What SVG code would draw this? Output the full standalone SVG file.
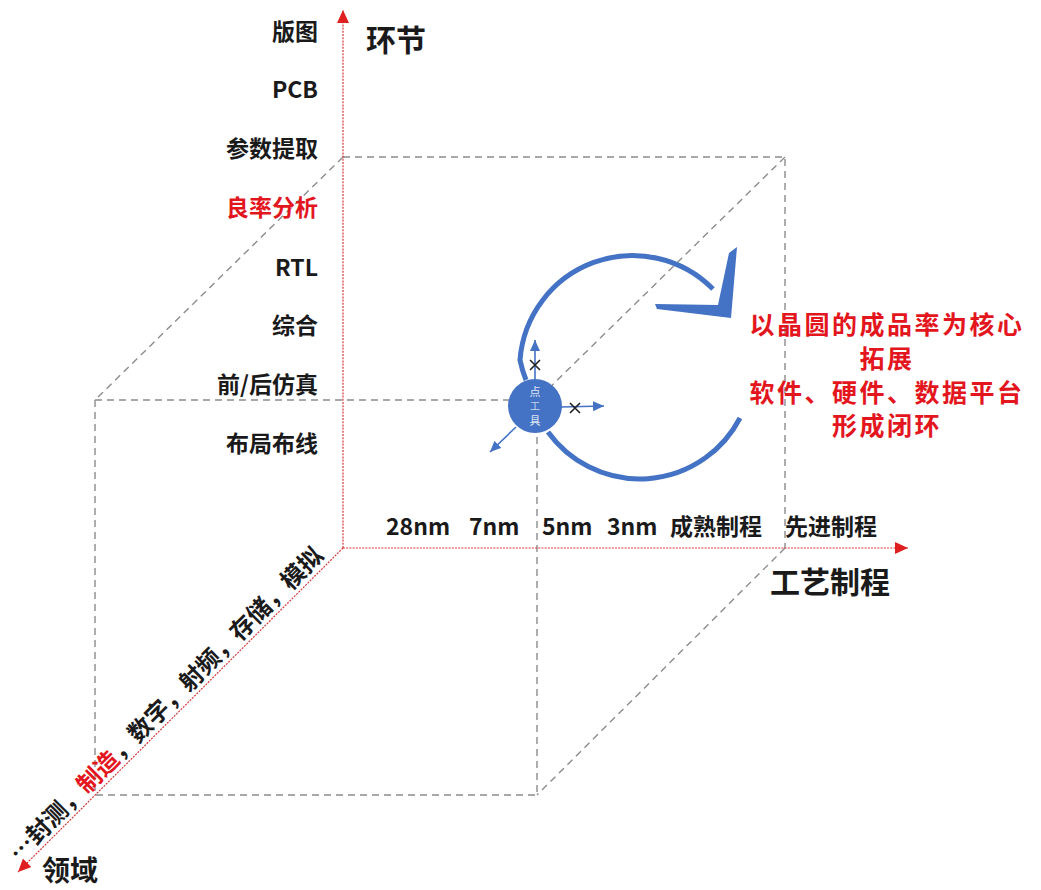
<svg xmlns="http://www.w3.org/2000/svg" width="1041" height="890" viewBox="0 0 1041 890">
  <style>
    .t { font-family: "Noto Sans CJK SC", "Liberation Sans", sans-serif; font-weight: 700; fill: #1a1a1a; }
    .lbl { font-size: 23px; text-anchor: end; dominant-baseline: central; }
    .tick { font-size: 23px; dominant-baseline: central; }
    .title { font-size: 30px; dominant-baseline: central; }
    .red { fill: #e3161e; }
    .note { font-size: 25px; letter-spacing: 2.5px; text-anchor: middle; dominant-baseline: central; fill: #e3161e; }
    .axis { stroke: #d63a3a; stroke-width: 1.2; stroke-dasharray: 2 1.2; fill: none; }
    .dash { stroke: #8c8c8c; stroke-width: 1.4; stroke-dasharray: 7 5; fill: none; }
    .blue { stroke: #4472c4; fill: none; }
    .x { stroke: #222; stroke-width: 1.6; }
    .in { font-family: "Noto Sans CJK SC", sans-serif; font-size: 11px; text-anchor: middle; fill: #dfe7f5; }
  </style>
  <defs>
    <marker id="redArrow" markerUnits="userSpaceOnUse" markerWidth="14" markerHeight="12" refX="13" refY="6" orient="auto">
      <path d="M0,0 L13,6 L0,12 z" fill="#e02020"/>
    </marker>
    <marker id="blueArrow" markerUnits="userSpaceOnUse" markerWidth="12" markerHeight="10" refX="11" refY="5" orient="auto">
      <path d="M0,0 L11,5 L0,10 z" fill="#4472c4"/>
    </marker>
  </defs>

  <rect width="1041" height="890" fill="#ffffff"/>

  <!-- cube dashed edges -->
  <g id="cube">
    <path class="dash" d="M343,157 H785 V548"/>
    <path class="dash" d="M343,157 L95,400"/>
    <path class="dash" d="M785,157 L537,400"/>
    <path class="dash" d="M785,548 L537,795"/>
    <path class="dash" d="M95,400 H512"/>
    <path class="dash" d="M95,400 V795 H537 V432"/>
  </g>

  <!-- axes -->
  <g id="connectors">
    <line class="axis" x1="343" y1="548" x2="343" y2="10" marker-end="url(#redArrow)"/>
    <line class="axis" x1="343" y1="548" x2="908" y2="548" marker-end="url(#redArrow)"/>
    <line class="axis" x1="343" y1="548" x2="18" y2="872" marker-end="url(#redArrow)"/>
  </g>

  <!-- vertical axis labels -->
  <g id="stages">
    <text class="t title" x="366" y="38">环节</text>
    <text class="t lbl" x="318" y="30">版图</text>
    <text class="t lbl" x="318" y="88">PCB</text>
    <text class="t lbl" x="318" y="147">参数提取</text>
    <text class="t lbl red" x="318" y="206">良率分析</text>
    <text class="t lbl" x="318" y="266">RTL</text>
    <text class="t lbl" x="318" y="324">综合</text>
    <text class="t lbl" x="318" y="383">前/后仿真</text>
    <text class="t lbl" x="318" y="442">布局布线</text>
  </g>

  <!-- horizontal axis labels -->
  <g id="process">
    <text class="t tick" x="386" y="525">28nm</text>
    <text class="t tick" x="469" y="525">7nm</text>
    <text class="t tick" x="542" y="525">5nm</text>
    <text class="t tick" x="607" y="525">3nm</text>
    <text class="t tick" x="670" y="525">成熟制程</text>
    <text class="t tick" x="785" y="525">先进制程</text>
    <text class="t title" x="770" y="580">工艺制程</text>
  </g>

  <!-- diagonal axis labels -->
  <g id="domain">
    <text class="t" font-size="24" transform="translate(22,867) rotate(-45)" x="1" y="-5">…封测，<tspan class="red">制造</tspan>，数字，射频，存储，模拟</text>
    <text class="t title" x="42" y="869" style="font-size:28px">领域</text>
  </g>

  <!-- loop arrow -->
  <g id="loop">
    <path class="blue" stroke-width="5" d="M526,380 A113,113 0 0 1 520,360 A113,113 0 0 1 713,289"/>
    <path class="blue" stroke-width="5" d="M548,432 A113,113 0 0 0 740,418"/>
    <polygon fill="#4472c4" points="655,304 718,305 729,253 737,247 731,318 657,309"/>
  </g>

  <!-- point tool -->
  <g id="tool">
    <line class="blue" stroke-width="1.6" x1="535" y1="380" x2="535" y2="340" marker-end="url(#blueArrow)"/>
    <line class="blue" stroke-width="1.6" x1="561" y1="407" x2="604" y2="406" marker-end="url(#blueArrow)"/>
    <line class="blue" stroke-width="1.6" x1="516" y1="427" x2="490" y2="452" marker-end="url(#blueArrow)"/>
    <circle cx="535" cy="406" r="27" fill="#4472c4"/>
    <path class="x" d="M530,360 L540,370 M540,360 L530,370"/>
    <path class="x" d="M570,403 L580,413 M580,403 L570,413"/>
    <text class="in" x="535" y="396">点</text>
    <text class="in" x="535" y="410" style="font-size:10px;fill:#c9d6ee">工</text>
    <text class="in" x="535" y="425">具</text>
  </g>

  <!-- red note -->
  <g id="note">
    <text class="t note" x="887" y="323">以晶圆的成品率为核心</text>
    <text class="t note" x="887" y="357">拓展</text>
    <text class="t note" x="887" y="391">软件、硬件、数据平台</text>
    <text class="t note" x="887" y="424">形成闭环</text>
  </g>
</svg>
